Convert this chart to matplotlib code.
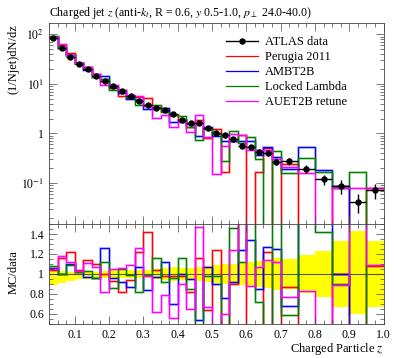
import numpy as np
import matplotlib
matplotlib.use("Agg")
import matplotlib.pyplot as plt
from matplotlib.lines import Line2D
from matplotlib.ticker import MultipleLocator, FixedLocator, LogLocator, FuncFormatter, NullFormatter

plt.rcParams['font.family'] = ['Liberation Serif', 'DejaVu Serif']
plt.rcParams['mathtext.fontset'] = 'stix'

# bin edges in z
edges = [0.025, 0.05, 0.075, 0.1, 0.125, 0.15, 0.175, 0.2, 0.225, 0.25, 0.275,
         0.3, 0.325, 0.35, 0.375, 0.4, 0.425, 0.45, 0.475, 0.5, 0.525, 0.55,
         0.575, 0.6, 0.625, 0.65, 0.675, 0.7, 0.75, 0.8, 0.85, 0.9, 0.95, 1.0]

# ATLAS data (1/Njet)dN/dz and relative errors
data = [85, 53, 35, 25.5, 19.6, 14.6, 11.4, 8.9, 7.05, 5.6, 4.5, 3.73, 3.3,
        2.96, 2.45, 1.9, 1.61, 1.61, 1.26, 1.0, 0.91, 0.78, 0.57, 0.53, 0.43,
        0.41, 0.27, 0.275, 0.195, 0.118, 0.088, 0.042, 0.072]
err_up = [0.04, 0.035, 0.02, 0.02, 0.02, 0.025, 0.03, 0.05, 0.04, 0.04, 0.04,
          0.04, 0.05, 0.06, 0.07, 0.06, 0.06, 0.07, 0.08, 0.09, 0.10, 0.10,
          0.11, 0.12, 0.13, 0.14, 0.16, 0.15, 0.19, 0.23, 0.33, 0.43, 0.33]
err_dn = [0.11, 0.085, 0.07, 0.05, 0.05, 0.045, 0.04, 0.04, 0.04, 0.04, 0.04,
          0.04, 0.05, 0.06, 0.07, 0.06, 0.06, 0.07, 0.08, 0.09, 0.10, 0.10,
          0.11, 0.12, 0.13, 0.14, 0.16, 0.15, 0.19, 0.23, 0.33, 0.40, 0.33]

# MC / data ratios
perugia = [1.04, 1.16, 1.22, 1.04, 1.14, 1.10, 1.00, 0.93, 0.82, 0.94, 1.22,
           1.425, 1.04, 0.98, 0.98, 0.98, 0.82, 1.16, 0.64, 1.24, 0.18, 0.9,
           1.6, 0.0, 0.39, 1.22, 0.0, 0.87, 0.0, 0.0, 1.0, 0.0, 1.08]
ambt2b = [1.06, 1.0, 1.10, 1.02, 0.97, 0.96, 1.26, 0.96, 0.92, 0.87, 1.07,
          0.845, 0.97, 1.125, 0.70, 1.0, 0.95, 0.54, 1.07, 0.9, 0.76, 0.92,
          1.24, 1.34, 0.85, 1.27, 1.25, 0.68, 2.74, 1.53, 1.0, 0.0, 0.0]
locked = [1.08, 1.0, 1.09, 1.02, 1.03, 0.96, 1.12, 0.865, 1.05, 0.99, 0.82,
          0.99, 1.16, 0.92, 0.96, 1.16, 0.855, 0.45, 0.98, 0.98, 0.3, 1.46,
          1.12, 1.6, 0.72, 0.0, 1.6, 0.59, 1.67, 1.42, 0.9, 3.9, 0.0]
auet2b = [1.05, 1.18, 1.12, 1.03, 1.11, 1.07, 0.82, 1.05, 1.06, 1.09, 1.26,
          0.98, 0.62, 0.79, 0.56, 0.9, 0.65, 1.47, 0.67, 0.155, 0.6, 1.24,
          1.6, 0.88, 1.07, 1.14, 1.12, 0.77, 0.83, 0.0, 0.89, 1.86, 1.09]

series = [("Perugia 2011", perugia, "#ff0000"),
          ("AMBT2B", ambt2b, "#0000ff"),
          ("Locked Lambda", locked, "#008000"),
          ("AUET2B retune", auet2b, "#ff00ff")]

edges = np.array(edges)
data = np.array(data)
centers = 0.5 * (edges[1:] + edges[:-1])
halfw = 0.5 * (edges[1:] - edges[:-1])
up = np.array(err_up)
dn = np.array(err_dn)

W, H = 397, 358
fig = plt.figure(figsize=(W / 100, H / 100), dpi=100)
ax = fig.add_axes([49 / W, 1 - 224 / H, 334.6 / W, 201 / H])
rx = fig.add_axes([49 / W, 1 - 324 / H, 334.6 / W, 100 / H], sharex=ax)

# main panel
for label, ratio, col in series:
    mc = data * np.array(ratio)
    mc = np.where(mc > 0, mc, 1e-5)
    ax.stairs(mc, edges, baseline=None, color=col, lw=2.0, alpha=0.25)
    ax.stairs(mc, edges, baseline=None, color=col, lw=0.9)
ax.errorbar(centers, data, xerr=halfw, yerr=[data * dn, data * up], fmt='o',
            ms=3.6, color='k', lw=1.0, capsize=0, zorder=5)
ax.set_yscale('log')
ax.set_ylim(0.0148, 170)
ax.set_xlim(0.025, 1.0)

decade = {2: '$10^{2}$', 1: '$10^{1}$', 0: '1', -1: '$10^{-1}$'}
ax.yaxis.set_major_locator(FixedLocator([0.1, 1, 10, 100]))
ax.yaxis.set_major_formatter(FuncFormatter(lambda v, p: decade.get(int(round(np.log10(v))), '')))
ax.yaxis.set_minor_locator(LogLocator(base=10, subs=np.arange(2, 10)))
ax.yaxis.set_minor_formatter(NullFormatter())
plt.setp(ax.get_xticklabels(), visible=False)

handles = [Line2D([], [], color='k', marker='o', ms=3.6, lw=1.0)]
handles += [Line2D([], [], color=c, lw=0.9) for _, _, c in series]
labels = ["ATLAS data"] + [s[0] for s in series]
ax.legend(handles, labels, loc='upper left', bbox_to_anchor=(0.53, 0.935),
          frameon=False, fontsize=9, handlelength=2.5, handletextpad=0.6,
          labelspacing=0.24, borderaxespad=0, borderpad=0)

# ratio panel
rx.stairs(1 + up, edges, baseline=1 - dn, fill=True, color='#ffff00', lw=0)
rx.axhline(1, color='#555555', lw=0.8, zorder=1)
for label, ratio, col in series:
    r = np.array(ratio)
    rx.stairs(r, edges, baseline=None, color=col, lw=2.0, alpha=0.25)
    rx.stairs(r, edges, baseline=None, color=col, lw=0.9)
rx.set_ylim(0.5, 1.5)
rx.yaxis.set_major_locator(FixedLocator([0.6, 0.8, 1.0, 1.2, 1.4]))
rx.yaxis.set_major_formatter(FuncFormatter(lambda v, p: '%g' % round(v, 1)))
rx.yaxis.set_minor_locator(MultipleLocator(0.05))
rx.xaxis.set_major_locator(FixedLocator([0.1, 0.2, 0.3, 0.4, 0.5, 0.6, 0.7, 0.8, 0.9, 1.0]))
rx.xaxis.set_major_formatter(FuncFormatter(lambda v, p: '%.1f' % v))
rx.xaxis.set_minor_locator(MultipleLocator(0.025))

for a in (ax, rx):
    a.tick_params(which='both', direction='in', top=True, right=True,
                  width=0.5, labelsize=8.5, color='#444444')
    a.tick_params(which='major', length=6)
    a.tick_params(which='minor', length=3)
    for s in a.spines.values():
        s.set_linewidth(0.6)
        s.set_color('#444444')

fig.text(49 / W, 1 - 16 / H,
         r"Charged jet $z$ (anti-$k_t$, R = 0.6, $y$ 0.5-1.0, $p_\perp$ 24.0-40.0)",
         ha='left', va='baseline', fontsize=8.6)
fig.text(14 / W, 1 - 24 / H, "(1/Njet)dN/dz", rotation=90, ha='center',
         va='top', fontsize=9)
fig.text(14 / W, 1 - 272 / H, "MC/data", rotation=90, ha='center',
         va='center', fontsize=9)
fig.text(383.6 / W, 1 - 352 / H, "Charged Particle $z$", ha='right',
         va='baseline', fontsize=9)

fig.savefig("out.png", dpi=100)
